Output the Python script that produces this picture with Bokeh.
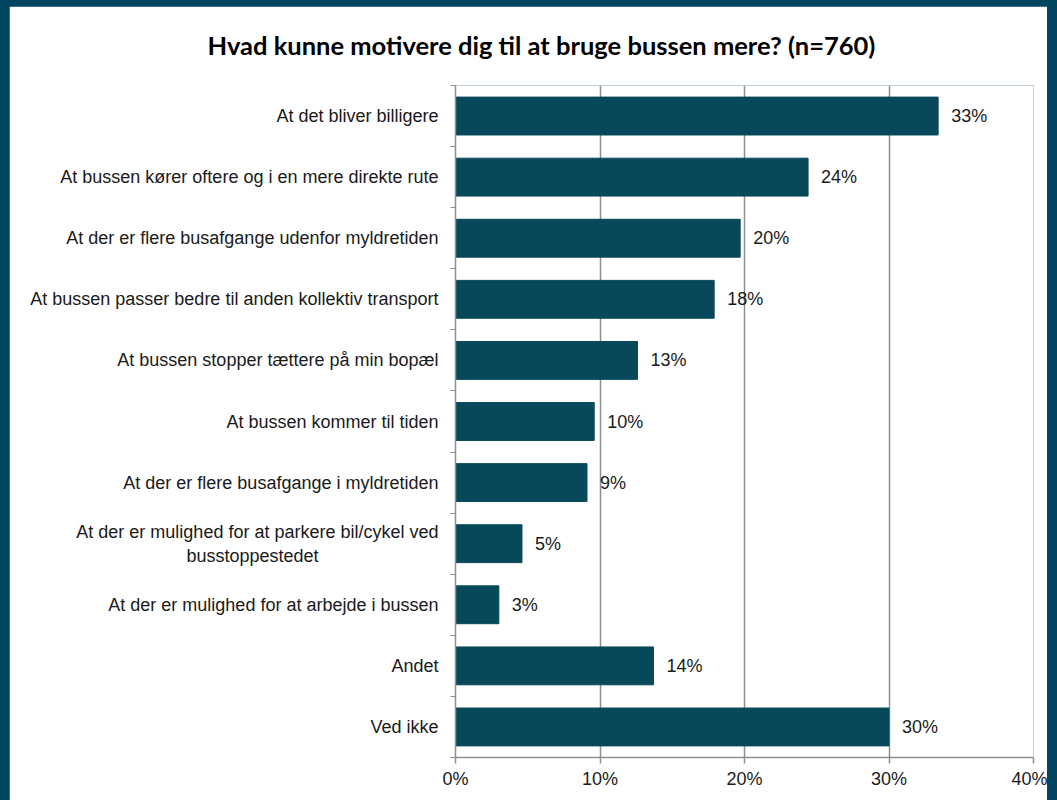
from bokeh.plotting import figure
from bokeh.models import ColumnDataSource, LabelSet, FixedTicker, Range1d, Title
from bokeh.core.properties import value
from bokeh.embed import file_html
from bokeh.resources import INLINE

categories = [
    "At det bliver billigere",
    "At bussen kører oftere og i en mere direkte rute",
    "At der er flere busafgange udenfor myldretiden",
    "At bussen passer bedre til anden kollektiv transport",
    "At bussen stopper tættere på min bopæl",
    "At bussen kommer til tiden",
    "At der er flere busafgange i myldretiden",
    "At der er mulighed for at parkere bil/cykel ved\nbusstoppestedet",
    "At der er mulighed for at arbejde i bussen",
    "Andet",
    "Ved ikke",
]
values = [33.4, 24.4, 19.7, 17.9, 12.6, 9.6, 9.1, 4.6, 3.0, 13.7, 30.0]
x_ticks = [0, 10, 20, 30, 40]
title_text = "Hvad kunne motivere dig til at bruge bussen mere? (n=760)"

BAR = "#07485a"
FRAME = "#01465e"
GRID = "#8e8e8e"
FONT = "Liberation Sans"
TXT = "#1a1a1a"

n = len(categories)
ypos = [n - i for i in range(n)]  # first category at top
labels = [f"{round(v)}%" for v in values]

src = ColumnDataSource(dict(y=ypos, v=values, lab=labels))

p = figure(width=1038, height=794, output_backend="svg", toolbar_location=None,
           x_range=Range1d(0, 40), y_range=Range1d(0.5, n + 0.5),
           min_border_left=446, min_border_right=14, min_border_top=79,
           min_border_bottom=43, border_fill_color="white",
           background_fill_color="white", outline_line_color=None)

p.title = Title(text=title_text, align="left", offset=-248, standoff=47,
                vertical_align="top",
                text_font="Lato", text_font_size="25.5px", text_font_style="bold",
                text_color="#000000")

p.hbar(y="y", right="v", left=0, height=0.62, source=src,
       fill_color=BAR, line_color=BAR)

p.add_layout(LabelSet(x="v", y="y", text="lab", source=src, x_offset=13,
                      text_baseline="middle", text_align="left",
                      text_font=value(FONT), text_font_size="18px",
                      text_color=TXT))

# x axis
p.xaxis.ticker = FixedTicker(ticks=x_ticks)
p.xaxis.major_label_overrides = {t: f"{t}%" for t in x_ticks}
p.xaxis.axis_line_color = GRID
p.xaxis.axis_line_width = 1.5
p.xaxis.major_tick_line_color = GRID
p.xaxis.major_tick_line_width = 1.5
p.xaxis.major_tick_out = 6
p.xaxis.major_tick_in = 0
p.xaxis.minor_tick_line_color = None
p.xaxis.major_label_text_font = FONT
p.xaxis.major_label_text_font_size = "18px"
p.xaxis.major_label_text_color = TXT
p.xaxis.major_label_standoff = 5


def centred(label):
    # right-aligned axis labels: pad the shorter wrapped line so the lines look centred
    lines = label.split("\n")
    if len(lines) == 1:
        return label
    longest = max(len(s) for s in lines)
    out = []
    for s in lines:
        pad = int(round((longest - len(s)) * 0.5 * 1.5))
        out.append(s + "\u00a0" * pad)
    return "\n".join(out)


p.yaxis.ticker = FixedTicker(ticks=ypos, minor_ticks=[y + 0.5 for y in range(n + 1)])
p.yaxis.major_label_overrides = {y: centred(c) for y, c in zip(ypos, categories)}
p.yaxis.axis_line_color = GRID
p.yaxis.axis_line_width = 1.5
p.yaxis.major_tick_line_color = None
p.yaxis.major_tick_out = 0
p.yaxis.major_tick_in = 0
p.yaxis.minor_tick_line_color = GRID
p.yaxis.minor_tick_line_width = 1.2
p.yaxis.minor_tick_out = 5
p.yaxis.minor_tick_in = 0
p.yaxis.major_label_text_font = FONT
p.yaxis.major_label_text_font_size = "18px"
p.yaxis.major_label_text_color = TXT
p.yaxis.major_label_standoff = 12

p.xgrid.grid_line_color = GRID
p.xgrid.grid_line_width = 1.5
p.ygrid.grid_line_color = None

template = """
{% block postamble %}<style>
html, body { background: #01465e; margin: 0; }
body { padding: 6px 0 0 9px; }
</style>{% endblock %}
"""

open("out.html", "w").write(file_html(p, INLINE, template=template))
